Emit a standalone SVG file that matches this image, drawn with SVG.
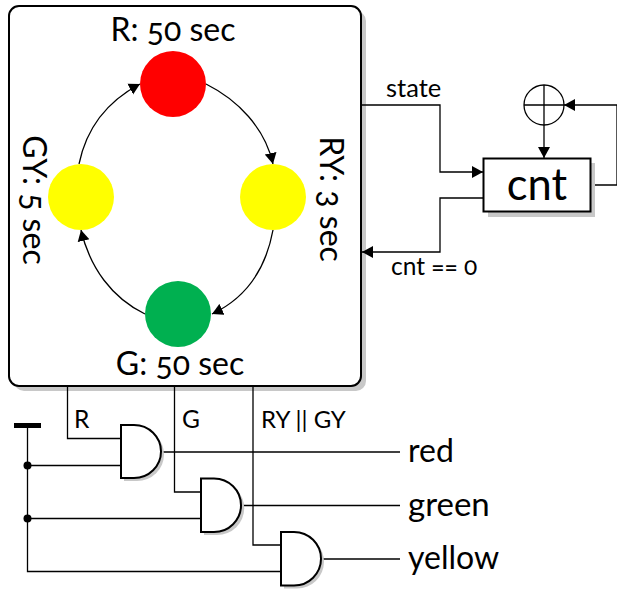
<svg xmlns="http://www.w3.org/2000/svg" width="617" height="590" viewBox="0 0 617 590">
<defs>
<marker id="arr" markerUnits="userSpaceOnUse" markerWidth="12" markerHeight="13" refX="11" refY="6.500" orient="auto"><path d="M0,0.500 L11,6.500 L0,12.500 Z" fill="#000"/></marker>
</defs>
<style>
text{font-family:"Lato","Open Sans","Liberation Sans",sans-serif;fill:#000;font-feature-settings:"onum";}
.w{fill:none;stroke:#000;stroke-width:1.3}
.a{marker-end:url(#arr)}
.s{fill:#c8c8c8}
.gate{fill:#fff;stroke:#000;stroke-width:2}
.l{font-size:32px}
.m{font-size:24.500px}
</style>
<g id="controller">
<rect class="s" x="14" y="11" width="352" height="380" rx="10"/>
<rect x="9" y="6" width="352" height="380" rx="10" fill="#fff" stroke="#000" stroke-width="2"/>
</g>
<g id="connectors">
<path class="w a" d="M79,164 C86,130 106,102 140,84"/>
<path class="w a" d="M206,84 C238,100 265,128 273,164"/>
<path class="w a" d="M273,230 C266,268 246,298 212,314"/>
<path class="w a" d="M145,314 C112,298 90,268 81,230"/>
<path class="w a" d="M361,105 H440 V172 H483"/>
<path class="w a" d="M483,198 H440 V252 H362"/>
<path class="w a" d="M544,125 V158"/>
<path class="w a" d="M591,185 H617 V105 H564"/>
<path class="w" d="M67.500,386 V438.500 H121"/>
<path class="w" d="M174.500,386 V492 H201"/>
<path class="w" d="M253,386 V545 H281"/>
<path class="w" d="M27.500,425 V571.500 H281"/>
<path class="w" d="M27.500,465.500 H121"/>
<path class="w" d="M27.500,518.500 H201"/>
<path class="w" d="M161,452 H400"/>
<path class="w" d="M241,505.500 H400"/>
<path class="w" d="M321,559 H400"/>
<circle cx="27.500" cy="465.500" r="4"/>
<circle cx="27.500" cy="518.500" r="4"/>
<rect x="14" y="423" width="27" height="5"/>
</g>
<g id="state-r"><circle cx="173" cy="84" r="33" fill="#f00"/><text class="l" x="173" y="41" text-anchor="middle">R: 50 sec</text></g>
<g id="state-gy"><circle cx="81" cy="197" r="33" fill="#ff0"/><text class="l" transform="translate(23,200) rotate(90)" text-anchor="middle">GY: 5 sec</text></g>
<g id="state-ry"><circle cx="273" cy="197" r="33" fill="#ff0"/><text class="l" transform="translate(320,199) rotate(90)" text-anchor="middle">RY: 3 sec</text></g>
<g id="state-g"><circle cx="178" cy="314" r="33" fill="#00b050"/><text class="l" x="180" y="375" text-anchor="middle">G: 50 sec</text></g>
<g id="adder"><circle cx="544" cy="105" r="20" fill="#fff" stroke="#000" stroke-width="1.300"/><path class="w" d="M524,105 H564 M544,85 V125"/></g>
<g id="cnt"><rect class="s" x="488" y="163" width="107" height="54"/><rect x="483.500" y="158.500" width="107" height="53" fill="#fff" stroke="#000" stroke-width="2"/><text x="537" y="200" font-size="43.500" text-anchor="middle">cnt</text></g>
<g id="gate-red"><path class="s" d="M124,428 H137 A27,26.500 0 0 1 137,481 H124 Z"/><path class="gate" d="M121,425 H134 A27,26.500 0 0 1 134,478 H121 Z"/></g>
<g id="gate-green"><path class="s" d="M204,481.500 H217 A27,26.500 0 0 1 217,535 H204 Z"/><path class="gate" d="M201,478.500 H214 A27,26.750 0 0 1 214,532 H201 Z"/></g>
<g id="gate-yellow"><path class="s" d="M284,535 H297 A27,26.750 0 0 1 297,588.500 H284 Z"/><path class="gate" d="M281,532 H294 A27,26.750 0 0 1 294,585.500 H281 Z"/></g>
<g id="labels">
<text class="m" x="386" y="97" font-size="25.500" style="font-size:25.500px">state</text>
<text class="m" x="391" y="275">cnt == 0</text>
<text class="m" x="74" y="428">R</text>
<text class="m" x="182" y="428">G</text>
<text class="m" x="261" y="428" style="font-size:24px">RY || GY</text>
<text class="l" x="408" y="462">red</text>
<text class="l" x="408" y="516" style="font-size:33px">green</text>
<text class="l" x="408" y="569">yellow</text>
</g>
</svg>
